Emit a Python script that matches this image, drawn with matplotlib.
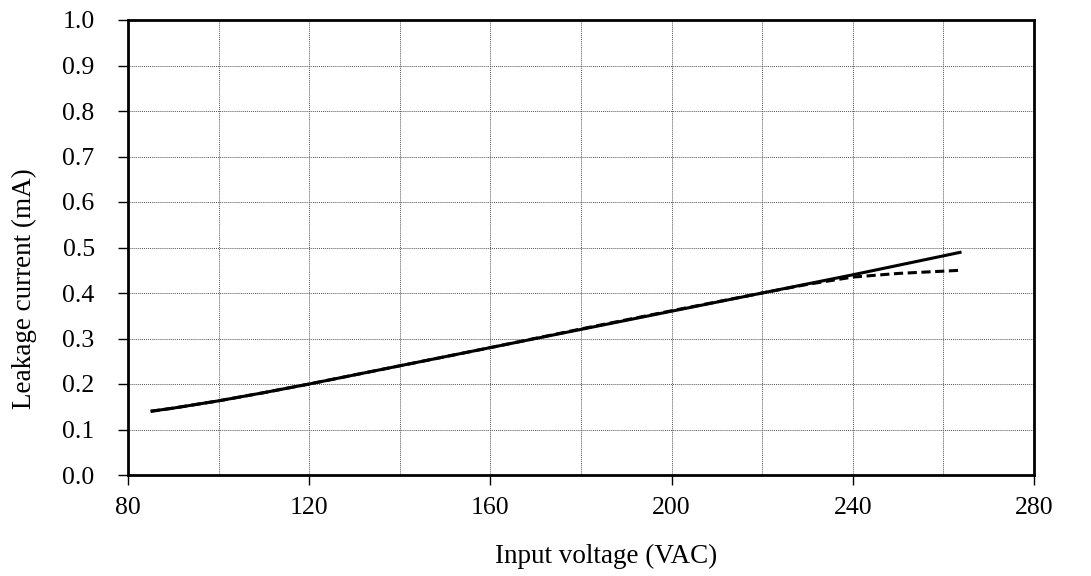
import matplotlib
matplotlib.use("Agg")
import matplotlib.pyplot as plt
from matplotlib.ticker import MultipleLocator

plt.rcParams['font.family'] = ['Liberation Serif', 'DejaVu Serif']

v_solid = [85, 90, 95, 100, 110, 120, 130, 140, 160, 180, 200, 220, 240, 264]
i_solid = [0.140, 0.147, 0.155, 0.163, 0.181, 0.200, 0.220, 0.240, 0.280, 0.320, 0.360, 0.400, 0.440, 0.490]
v_dash = [85, 90, 95, 100, 110, 120, 130, 140, 160, 180, 200, 220, 230, 240, 250, 260, 264]
i_dash = [0.140, 0.147, 0.155, 0.163, 0.181, 0.200, 0.220, 0.240, 0.280, 0.321, 0.361, 0.400, 0.419, 0.435, 0.443, 0.448, 0.450]

x_ticks = [80, 120, 160, 200, 240, 280]
y_ticks = [0.0, 0.1, 0.2, 0.3, 0.4, 0.5, 0.6, 0.7, 0.8, 0.9, 1.0]

fig = plt.figure(figsize=(10.91, 5.76), dpi=100)
ax = fig.add_axes([128/1091, 1 - 475/576, (1034-128)/1091, (475-20)/576])

ax.plot(v_solid, i_solid, color='black', lw=2.2, solid_capstyle='butt', solid_joinstyle='round')
ax.plot(v_dash, i_dash, color='black', lw=2.2, linestyle=(0, (3, 1.5)))

ax.set_xlim(80, 280)
ax.set_ylim(0, 1.0)
ax.set_xticks(x_ticks)
ax.set_xticklabels([str(t) for t in x_ticks])
ax.set_yticks(y_ticks)
ax.set_yticklabels([f"{t:.1f}" for t in y_ticks])
ax.xaxis.set_minor_locator(MultipleLocator(20))
ax.grid(which='both', color='#555555', linestyle=(0, (1, 1)), linewidth=0.7)
ax.tick_params(which='minor', length=0)
ax.tick_params(which='major', direction='out', length=7, width=1, labelsize=18.5)
ax.tick_params(axis='y', pad=17)
ax.tick_params(axis='x', pad=9)
for s in ax.spines.values():
    s.set_linewidth(2)
ax.set_axisbelow(True)

ax.set_xlabel('Input voltage (VAC)', fontsize=19.5, labelpad=18)
ax.set_ylabel('Leakage current (mA)', fontsize=19.5, labelpad=18)
ax.xaxis.label.set_x(0.528)
ax.yaxis.label.set_y(0.409)

fig.savefig('out.png', dpi=100)
